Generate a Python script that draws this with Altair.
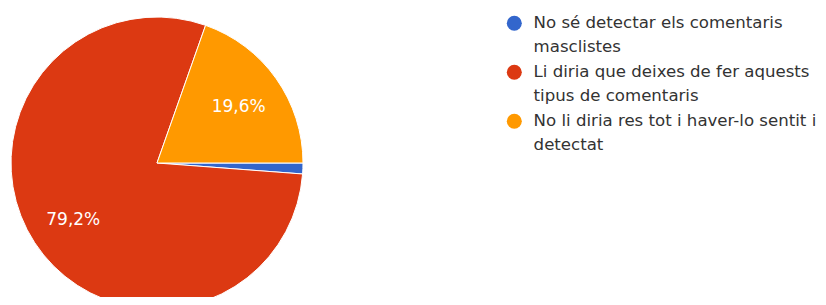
import altair as alt
import pandas as pd

categories = [
    "No sé detectar els comentaris|masclistes",
    "Li diria que deixes de fer aquests|tipus de comentaris",
    "No li diria res tot i haver-lo sentit i|detectat",
]
values = [1.2, 79.2, 19.6]
labels = ["", "79,2%", "19,6%"]
colors = ["#3366CC", "#DC3912", "#FF9900"]

df = pd.DataFrame({
    "cat": categories,
    "value": values,
    "label": labels,
    "ord": list(range(len(categories))),
})

FONT = "DejaVu Sans"

theta = alt.Theta("value:Q", stack=True,
                  scale=alt.Scale(range=[1.5707963, 1.5707963 + 6.2831853]))
color = alt.Color(
    "cat:N",
    scale=alt.Scale(domain=categories, range=colors),
    legend=alt.Legend(
        title=None,
        orient="none",
        legendX=498,
        legendY=7,
        symbolType="circle",
        symbolSize=225,
        symbolStrokeWidth=0,
        labelExpr="split(datum.label, '|')",
        labelFont=FONT,
        labelFontSize=16.6,
        labelColor="#333333",
        labelLimit=400,
        labelOffset=11,
        rowPadding=8,
    ),
)

base = alt.Chart(df).encode(
    theta=theta,
    order=alt.Order("ord:Q"),
)

arcs = base.mark_arc(radius=146, stroke="white", strokeWidth=1).encode(
    color=color,
    x=alt.value(149),
    y=alt.value(155),
)

texts = base.mark_text(radius=100, font=FONT, fontSize=17, color="white", dy=2).encode(
    text="label:N",
    x=alt.value(149),
    y=alt.value(155),
)

chart = alt.layer(arcs, texts).properties(
    width=810,
    height=289,
    autosize=alt.AutoSizeParams(type="none"),
    padding=0,
).configure(
    style={"guide-label": {"lineHeight": 23.5}},
).configure_view(strokeWidth=0)

chart.save("out.html", embed_options={"renderer": "svg", "actions": False})
